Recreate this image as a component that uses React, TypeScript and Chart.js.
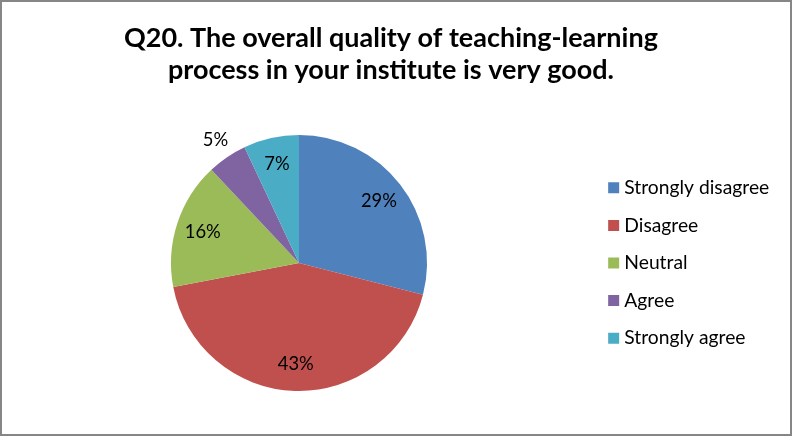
import React, { useEffect, useRef } from 'react';
import { Chart, registerables } from 'chart.js';

Chart.register(...registerables);

// ---- data ----
const titleLines = [
  'Q20. The overall quality of teaching-learning',
  'process in your institute is very good.',
];
const categories = ['Strongly disagree', 'Disagree', 'Neutral', 'Agree', 'Strongly agree'];
const percentages = [29, 43, 16, 5, 7];
const sliceColors = ['#4F81BD', '#C0504D', '#9BBB59', '#8064A2', '#4BACC6'];

// ---- style / layout constants ----
const FONT = 'Lato, "Open Sans", "DejaVu Sans", sans-serif';
const CW = 788;
const CH = 432;
const PIE_CX = 297;
const PIE_BOTTOM = 389;
const PIE_TOP = 133;
const LEGEND_TEXT_X = 622.3;
const LEGEND_STEP = 37.6;
const BOX_W = 2;

function fitSize(text: string, weight: string, target: number): number {
  const c = document.createElement('canvas').getContext('2d') as CanvasRenderingContext2D;
  c.font = `${weight} 100px ${FONT}`;
  return (100 * target) / c.measureText(text).width;
}

const pieLabelPlugin = {
  id: 'pieLabels',
  afterDatasetsDraw(chart: any, _args: any, opts: any) {
    const { ctx } = chart;
    const meta = chart.getDatasetMeta(0);
    const data = chart.data.datasets[0].data as number[];
    const total = data.reduce((a, b) => a + b, 0);
    ctx.save();
    ctx.font = `normal ${opts.size}px ${FONT}`;
    ctx.fillStyle = '#000';
    ctx.textAlign = 'center';
    ctx.textBaseline = 'middle';
    meta.data.forEach((el: any, i: number) => {
      const { x, y, startAngle, endAngle, outerRadius } = el.getProps(
        ['x', 'y', 'startAngle', 'endAngle', 'outerRadius'],
        true
      );
      const share = data[i] / total;
      const mid = (startAngle + endAngle) / 2;
      const k = share < 0.06 ? 1.16 : 0.79;
      ctx.fillText(
        `${Math.round(share * 100)}%`,
        x + Math.cos(mid) * outerRadius * k,
        y + Math.sin(mid) * outerRadius * k
      );
    });
    ctx.restore();
  },
};

export default function App() {
  const ref = useRef<HTMLCanvasElement | null>(null);

  useEffect(() => {
    if (!ref.current) return;
    const fsL = fitSize(categories[0], 'normal', 145);
    const fsT = fitSize(titleLines[0], 'bold', 534);
    const fsD = fitSize('43%', 'normal', 36);

    // legend geometry
    const pad = LEGEND_STEP - fsL;
    const cursorX = LEGEND_TEXT_X - BOX_W - fsL / 2;
    const legendLeft = cursorX - pad;
    const c = document.createElement('canvas').getContext('2d') as CanvasRenderingContext2D;
    c.font = `normal ${fsL}px ${FONT}`;
    const maxText = Math.max(...categories.map((t) => c.measureText(t).width));
    const natural = pad + BOX_W + fsL / 2 + maxText + 10;
    const W = natural - 1;
    const L = 2 * PIE_CX - legendLeft;
    const R = CW - W - legendLeft;

    // title geometry
    const lh = 31.8;
    const line1Middle = 46.5 - 0.387 * fsT;
    const padTop = line1Middle - lh / 2;
    const padBottom = PIE_TOP - padTop - 2 * lh;

    const chart = new Chart(ref.current, {
      type: 'pie',
      data: {
        labels: categories,
        datasets: [
          {
            data: percentages,
            backgroundColor: sliceColors,
            borderWidth: 0,
          },
        ],
      },
      options: {
        responsive: false,
        animation: false,
        layout: { padding: { left: L, right: R, top: 0, bottom: CH - PIE_BOTTOM } },
        plugins: {
          title: {
            display: true,
            text: titleLines,
            color: '#000',
            font: { family: FONT, size: fsT, weight: 'bold', lineHeight: lh / fsT },
            padding: { top: padTop, bottom: padBottom },
          },
          legend: {
            position: 'right',
            align: 'center',
            fullSize: false,
            maxWidth: W,
            labels: {
              font: { family: FONT, size: fsL },
              color: '#000',
              padding: pad,
              boxWidth: BOX_W,
              boxHeight: 11,
              usePointStyle: true,
              pointStyle: 'rect',
            },
          },
          tooltip: { enabled: false },
          pieLabels: { size: fsD },
        } as any,
      },
      plugins: [pieLabelPlugin],
    });
    return () => chart.destroy();
  }, []);

  return (
    <div
      style={{
        position: 'absolute',
        left: 0,
        top: 0,
        width: 792,
        height: 436,
        border: '2px solid #868686',
        boxSizing: 'border-box',
        background: '#fff',
      }}
    >
      <canvas ref={ref} width={CW} height={CH} style={{ display: 'block', width: CW, height: CH }} />
    </div>
  );
}
